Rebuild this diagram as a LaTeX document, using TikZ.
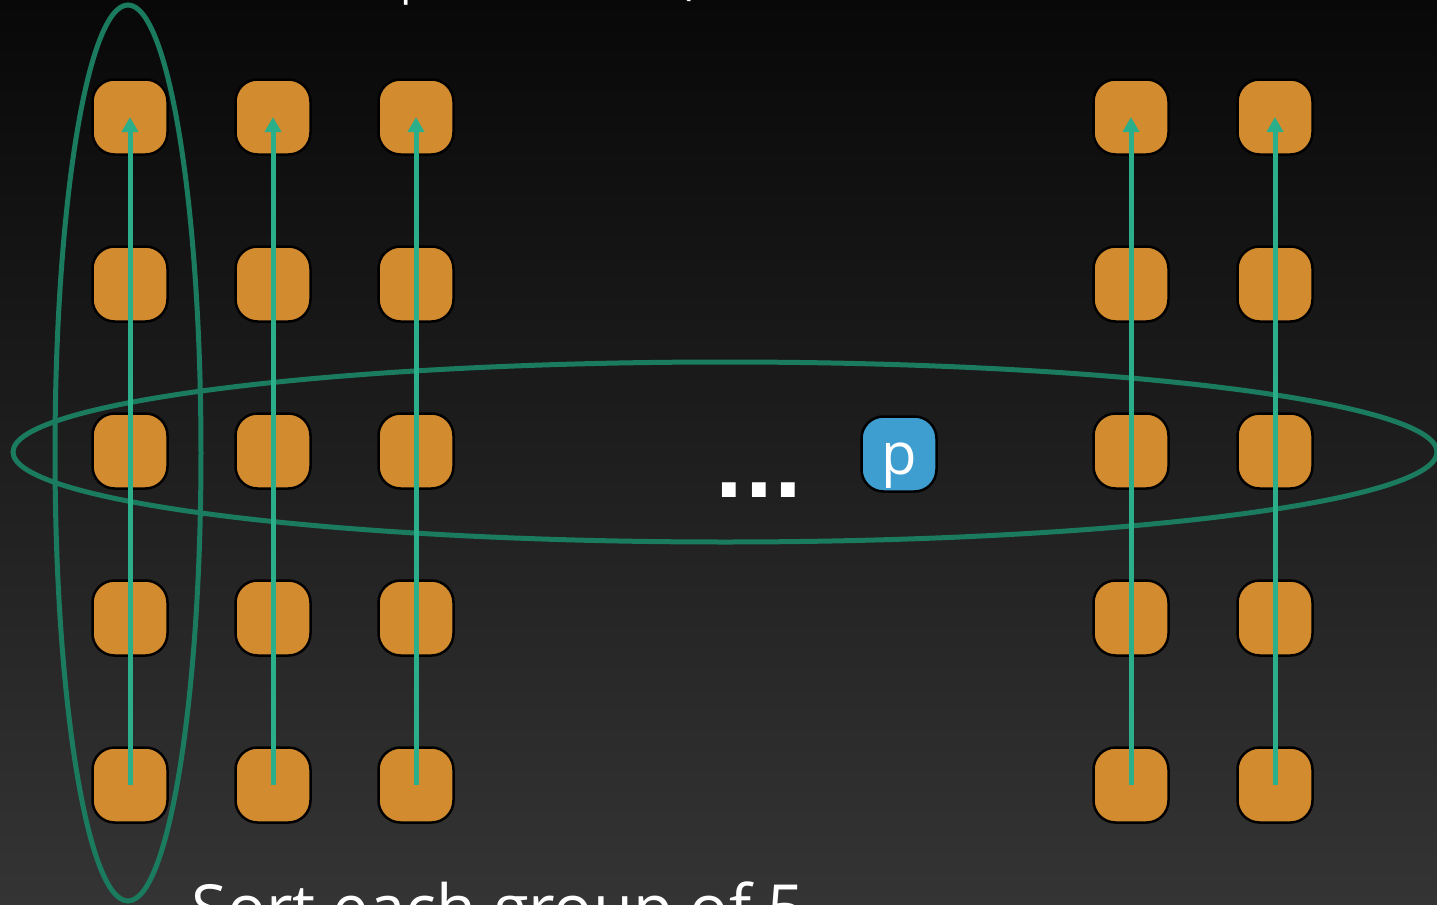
\documentclass[tikz,border=0pt]{standalone}
\usepackage{fontspec}
\setmainfont{Open Sans}
\newfontfamily\dotsfont{DejaVu Sans}
\usetikzlibrary{arrows.meta}

\definecolor{bgtop}{HTML}{080808}
\definecolor{bgmid}{HTML}{1B1B1B}
\definecolor{bgbot}{HTML}{343434}
\definecolor{elem}{HTML}{D38B30}
\definecolor{pivot}{HTML}{3E9ED0}
\definecolor{sortline}{HTML}{2BAE8A}
\definecolor{groupring}{HTML}{1B7B5E}

\tikzset{
  elembox/.style={draw=black, line width=1.25pt, fill=elem, rounded corners=11pt,
    minimum width=37.5pt, minimum height=37.5pt, inner sep=0pt},
  pivotbox/.style={elembox, fill=pivot, text=white, font=\fontsize{29}{29}\selectfont,
    text height=20pt, text depth=0pt},
  sortarrow/.style={draw=sortline, line width=2.5pt, -{Triangle[length=7.5pt,width=8pt]}},
  ring/.style={draw=groupring, line width=2.5pt},
  caption/.style={text=white, inner sep=0pt}
}

\begin{document}
\begin{tikzpicture}[x=0.5pt, y=-0.5pt]
  \useasboundingbox (0,0) rectangle (1437,905);
  \clip (0,0) rectangle (1437,905);
  \shade[top color=bgtop, middle color=bgmid, bottom color=bgbot] (0,0) rectangle (1437,905);

  % heading and caption (partly off the page)
  \node[caption, anchor=base west, font=\fontsize{22.5}{22.5}\selectfont] (heading) at (303,-6) {Compute median (recursive call on the medians of all the columns)};
  \node[caption, anchor=base west, font=\fontsize{32.5}{32.5}\selectfont] (caption) at (191,931) {Sort each group of 5};

  % group rings
  \draw[ring] (725,452) ellipse [x radius=712, y radius=90];
  \draw[ring] (128,453) ellipse [x radius=73, y radius=448];

  % the elements, five per column
  \foreach \c/\x in {1/130, 2/273, 3/416, 4/1131, 5/1275} {
    \foreach \r/\y in {1/117, 2/284, 3/451, 4/618, 5/785} {
      \node[elembox] (e\r-\c) at (\x,\y) {};
    }
  }

  % the pivot and the elided columns
  \node[pivotbox] (p) at (899,454) {p};
  \node[caption, anchor=base, font=\dotsfont\bfseries\fontsize{39}{39}\selectfont] (dots) at (759,497) {...};

  % each column is sorted upwards
  \foreach \c in {1,...,5} {
    \draw[sortarrow] (e5-\c.center) -- (e1-\c.center);
  }
\end{tikzpicture}
\end{document}
